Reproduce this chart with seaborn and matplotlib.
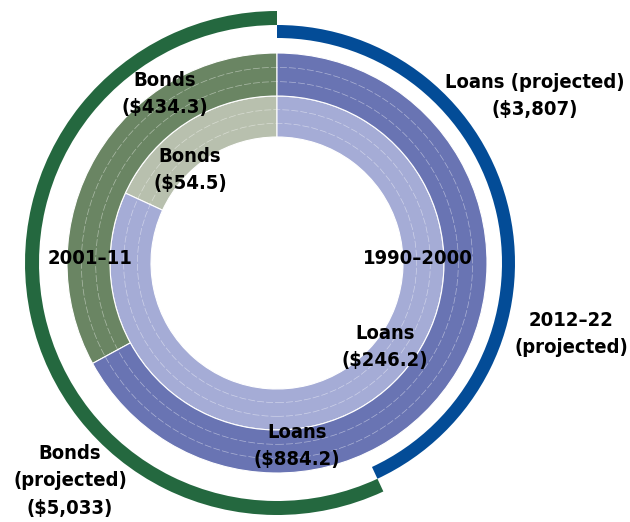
import matplotlib
matplotlib.use("Agg")
import matplotlib.pyplot as plt
import seaborn as sns
from matplotlib.patches import Circle

# Data (US$ billions)
periods = ["1990–2000", "2001–11", "2012–22 (projected)"]
bonds = [54.5, 434.3, 5033]
loans = [246.2, 884.2, 3807]

bond_colors = ["#b8c0ae", "#6a8563", "#24683f"]
loan_colors = ["#a5acd6", "#6974b3", "#034c97"]

sns.set_theme(style="white")
plt.rcParams["font.family"] = ["DejaVu Sans"]

fig = plt.figure(figsize=(6.3, 5.22), dpi=100)
ax = fig.add_axes([0, 0, 1, 1])

cx, cy = 277, 259
edge = dict(edgecolor="white", linewidth=0.8)

# inner ring (1990-2000) and middle ring (2001-11)
rings = [(167, 41), (210, 43)]
for i, (r, w) in enumerate(rings):
    ax.pie([bonds[i], loans[i]], radius=r, center=(cx, cy), startangle=90,
           counterclock=True, colors=[bond_colors[i], loan_colors[i]],
           wedgeprops=dict(width=w, **edge))
    # thin sub-division lines within each ring
    for k in (1, 2):
        ax.add_patch(Circle((cx, cy), r - w * k / 3, fill=False,
                            edgecolor="white", linewidth=0.5, alpha=0.45,
                            linestyle=(0, (10, 3))))

# outer projected arcs, bonds slightly outside loans
ax.pie([bonds[2], loans[2]], radius=252, center=(cx, cy), startangle=90,
       counterclock=True, colors=[bond_colors[2], "none"],
       wedgeprops=dict(width=14, linewidth=0))
ax.pie([bonds[2], loans[2]], radius=238, center=(cx, cy), startangle=90,
       counterclock=True, colors=["none", loan_colors[2]],
       wedgeprops=dict(width=13, linewidth=0))

ax.set_xlim(0, 630)
ax.set_ylim(0, 522)
ax.set_aspect("equal")
ax.axis("off")

txt = dict(fontsize=14.5, fontweight="bold", fontstretch="condensed",
           ha="center", va="center", linespacing=1.55, color="black")
H = 522
ax.text(165, H - 94, f"Bonds\n(${bonds[1]})", **txt)
ax.text(190, H - 170, f"Bonds\n(${bonds[0]})", **txt)
ax.text(90, H - 258, periods[1], **txt)
ax.text(418, H - 258, periods[0], **txt)
ax.text(535, H - 96, f"Loans (projected)\n(${loans[2]:,})", **txt)
ax.text(571, H - 334, "2012–22\n(projected)", **txt)
ax.text(385, H - 347, f"Loans\n(${loans[0]})", **txt)
ax.text(297, H - 446, f"Loans\n(${loans[1]})", **txt)
ax.text(70, H - 481, f"Bonds\n(projected)\n(${bonds[2]:,})", **txt)

fig.savefig("out.png", dpi=100)
